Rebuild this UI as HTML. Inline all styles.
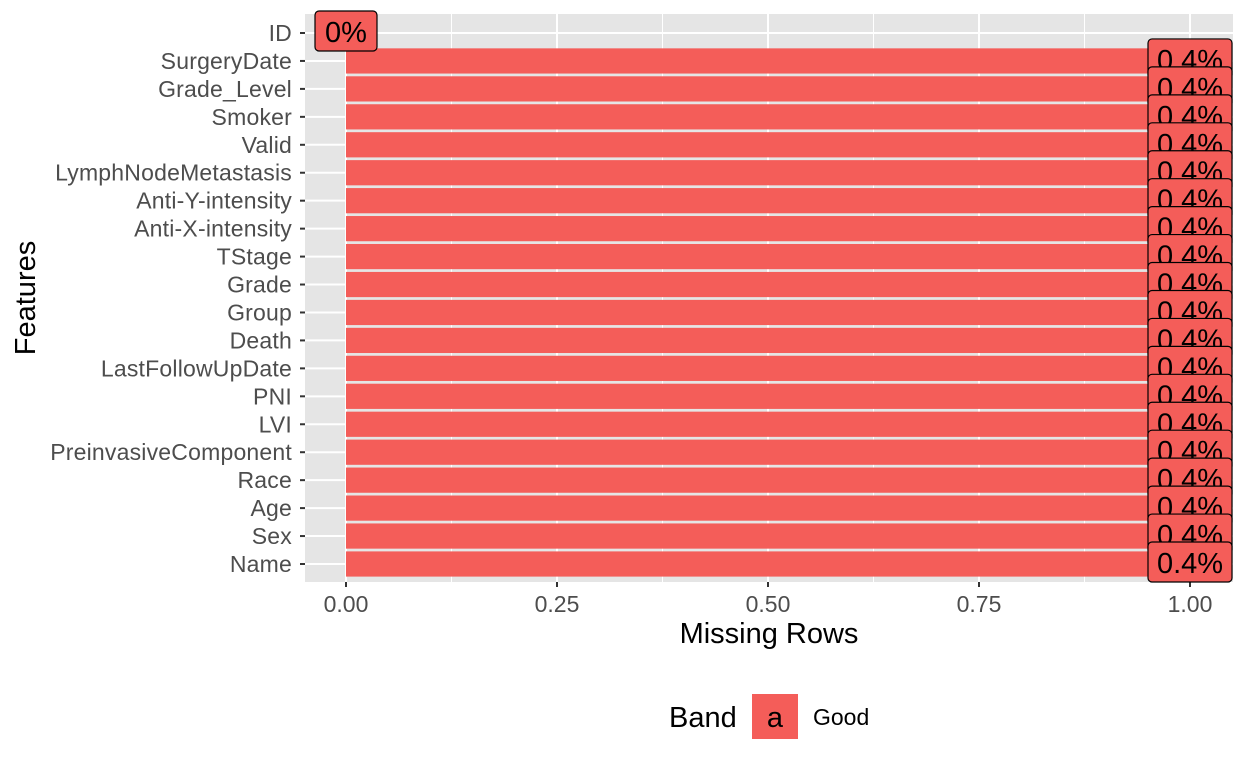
<!DOCTYPE html>
<html><head><meta charset="utf-8"><style>
body{margin:0;background:#fff}
svg{display:block;font-family:"Liberation Sans",Arial,sans-serif}
</style></head><body>
<svg id="c" width="1248" height="768" xmlns="http://www.w3.org/2000/svg"></svg>
<script>
const categories=["ID","SurgeryDate","Grade_Level","Smoker","Valid","LymphNodeMetastasis","Anti-Y-intensity","Anti-X-intensity","TStage","Grade","Group","Death","LastFollowUpDate","PNI","LVI","PreinvasiveComponent","Race","Age","Sex","Name"];
const values=[0,1,1,1,1,1,1,1,1,1,1,1,1,1,1,1,1,1,1,1];
const labels=["0%","0.4%","0.4%","0.4%","0.4%","0.4%","0.4%","0.4%","0.4%","0.4%","0.4%","0.4%","0.4%","0.4%","0.4%","0.4%","0.4%","0.4%","0.4%","0.4%"];
const xTicks=[0,0.25,0.5,0.75,1];
const xTickLabels=["0.00","0.25","0.50","0.75","1.00"];
const NS="http://www.w3.org/2000/svg";
const svg=document.getElementById('c');
const PL=305,PR=1233,PT=14,PB=582;
const x=v=>346+v*844;
const y=i=>33+i*(564-33)/19;
function mk(t,a,p){const e=document.createElementNS(NS,t);for(const k in a)e.setAttribute(k,a[k]);(p||svg).appendChild(e);return e;}
const panel=mk('rect',{x:PL,y:PT,width:PR-PL,height:PB-PT,fill:'#e5e5e5'});


for(let k=0;k<xTicks.length-1;k++){const m=(xTicks[k]+xTicks[k+1])/2;mk('line',{x1:x(m),x2:x(m),y1:PT,y2:PB,stroke:'#fff','stroke-width':1});}
xTicks.forEach((t,k)=>{
 mk('line',{x1:x(t),x2:x(t),y1:PT,y2:PB,stroke:'#fff','stroke-width':2});
 mk('line',{x1:x(t),x2:x(t),y1:PB,y2:PB+5,stroke:'#333','stroke-width':2});
 const tl=mk('text',{x:x(t),y:612,'text-anchor':'middle','font-size':23,fill:'#4d4d4d'});tl.textContent=xTickLabels[k];
 
 
});
categories.forEach((c,i)=>{
 mk('line',{x1:PL,x2:PR,y1:y(i),y2:y(i),stroke:'#fff','stroke-width':2});
 mk('line',{x1:PL-5,x2:PL,y1:y(i),y2:y(i),stroke:'#333','stroke-width':2});
 const t=mk('text',{x:PL-13,y:y(i)+8,'text-anchor':'end','font-size':23,fill:'#4d4d4d','letter-spacing':'0.2'});t.textContent=c;
 
 
});
categories.forEach((c,i)=>{
 const h=25.2;
 const b=mk('rect',{x:x(0),y:y(i)-h/2,width:Math.max(0,x(values[i])-x(0)),height:h,fill:'#f45d59'});
 
 
});
categories.forEach((c,i)=>{
 const g=mk('g',{});
 
 
 const w=labels[i].length>2?84:62, cx=x(values[i]);
 mk('rect',{x:cx-w/2,y:y(i)-22,width:w,height:40,rx:4,fill:'#f45d59',stroke:'#000','stroke-width':1.2},g);
 const t=mk('text',{x:cx,y:y(i)+9,'text-anchor':'middle','font-size':29,fill:'#000'},g);t.textContent=labels[i];
});
const xt=mk('text',{x:(PL+PR)/2,y:643,'text-anchor':'middle','font-size':29,fill:'#000'});xt.textContent='Missing Rows';


const yt=mk('text',{x:0,y:0,'text-anchor':'middle','font-size':29,fill:'#000',transform:`translate(35,${(PT+PB)/2}) rotate(-90)`});yt.textContent='Features';


const lg=mk('g',{});


const lt=mk('text',{x:669,y:727,'font-size':29,fill:'#000'},lg);lt.textContent='Band';
mk('rect',{x:752,y:694,width:46,height:45,fill:'#f45d59'},lg);
const la=mk('text',{x:775,y:727,'text-anchor':'middle','font-size':29,fill:'#000'},lg);la.textContent='a';
const lgd=mk('text',{x:813,y:725,'font-size':23,fill:'#000'},lg);lgd.textContent='Good';
</script>
</body></html>
